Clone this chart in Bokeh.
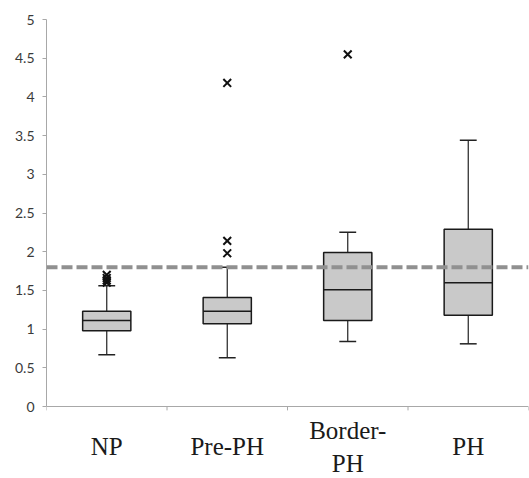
from bokeh.plotting import figure
from bokeh.models import Range1d, FixedTicker, Span, ColumnDataSource
from bokeh.core.properties import value
from bokeh.embed import file_html
from bokeh.resources import INLINE

# Groups (one list of text lines per group) and their box-plot statistics
groups = [["NP"], ["Pre-PH"], ["Border-", "PH"], ["PH"]]
whisker_low = [0.67, 0.63, 0.84, 0.81]
q1 = [0.98, 1.07, 1.11, 1.18]
median = [1.11, 1.23, 1.51, 1.60]
q3 = [1.23, 1.41, 1.99, 2.29]
whisker_high = [1.56, 1.80, 2.25, 3.44]

# Outlying observations (group index, value)
outlier_group = [0, 0, 0, 0, 1, 1, 1, 2]
outlier_value = [1.60, 1.63, 1.66, 1.70, 1.98, 2.14, 4.18, 4.55]

# Threshold drawn as a dashed reference line
threshold = 1.80

y_ticks = [0, 0.5, 1, 1.5, 2, 2.5, 3, 3.5, 4, 4.5, 5]

n = len(groups)
xc = [i + 0.5 for i in range(n)]
box_w = 0.4
cap_w = 0.07
axis_grey = "#a8a8a8"

# The frame reaches below zero so the group names can be drawn as glyphs
p = figure(width=529, height=478, output_backend="svg", toolbar_location=None,
           x_range=Range1d(0, n), y_range=Range1d(-0.93, 5),
           min_border_left=46, min_border_right=1, min_border_top=19,
           min_border_bottom=0)
p.outline_line_color = None
p.background_fill_color = "white"
p.border_fill_color = "white"
p.xgrid.visible = False
p.ygrid.visible = False

# Value axis limited to 0..5
p.yaxis.bounds = (0, 5)
p.yaxis.ticker = FixedTicker(ticks=y_ticks)
p.yaxis.major_label_overrides = {t: f"{t:g}" for t in y_ticks}
p.yaxis.major_label_text_font = "Lato"
p.yaxis.major_label_text_font_size = "14px"
p.yaxis.major_label_text_color = "#3a3a3a"
p.yaxis.major_label_standoff = 8
p.yaxis.axis_line_color = axis_grey
p.yaxis.major_tick_line_color = axis_grey
p.yaxis.major_tick_out = 4
p.yaxis.major_tick_in = 0
p.yaxis.minor_tick_line_color = None
p.xaxis.visible = False

# Category axis line at zero, with ticks on the group boundaries
p.add_layout(Span(location=0, dimension="width", line_color=axis_grey, line_width=1))
bounds = list(range(n + 1))
p.segment(x0=bounds, y0=[0] * len(bounds), x1=bounds, y1=[-0.05] * len(bounds),
          line_color=axis_grey, line_width=1)

src = ColumnDataSource(dict(x=xc, lo=whisker_low, q1=q1, med=median, q3=q3, hi=whisker_high,
                            cl=[x - cap_w for x in xc], cr=[x + cap_w for x in xc],
                            ml=[x - box_w / 2 for x in xc], mr=[x + box_w / 2 for x in xc]))

# Whiskers and caps
p.segment(x0="x", y0="lo", x1="x", y1="q1", source=src, line_color="#222222", line_width=1.2)
p.segment(x0="x", y0="q3", x1="x", y1="hi", source=src, line_color="#222222", line_width=1.2)
p.segment(x0="cl", y0="lo", x1="cr", y1="lo", source=src, line_color="#222222", line_width=1.5)
p.segment(x0="cl", y0="hi", x1="cr", y1="hi", source=src, line_color="#222222", line_width=1.5)

# Boxes and medians
p.vbar(x="x", width=box_w, bottom="q1", top="q3", source=src,
       fill_color="#c9c9c9", line_color="#1a1a1a", line_width=1.5)
p.segment(x0="ml", y0="med", x1="mr", y1="med", source=src, line_color="#1a1a1a", line_width=1.5)

# Outliers
p.scatter([xc[g] for g in outlier_group], outlier_value, marker="x", size=11,
          line_color="#111111", line_width=2)

# Threshold line
p.add_layout(Span(location=threshold, dimension="width", line_color="#909090",
                  line_width=4, line_dash="11 4"))

# Group names: each stack of lines centred on the same row
name_centre = -0.52
line_step = 0.43
tx, ty, tt = [], [], []
for x, lines in zip(xc, groups):
    k = len(lines)
    for j, s in enumerate(lines):
        tx.append(x)
        ty.append(name_centre + ((k - 1) / 2 - j) * line_step)
        tt.append(s)
p.text(x=tx, y=ty, text=tt, text_align="center", text_baseline="middle",
       text_font=value("Liberation Serif"), text_font_style="normal",
       text_font_size="25px", text_color="#1a1a1a")

open("out.html", "w").write(file_html(p, INLINE))
